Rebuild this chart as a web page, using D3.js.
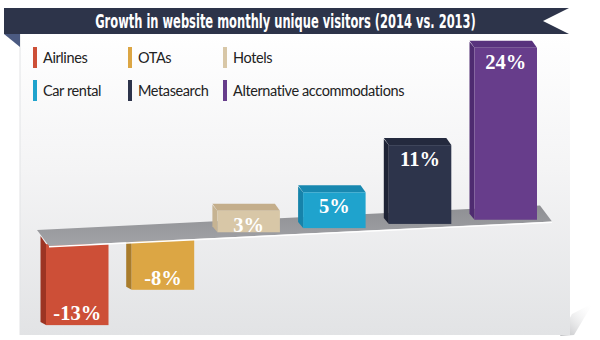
<!DOCTYPE html>
<html>
<head>
<meta charset="utf-8">
<script src="https://cdn.jsdelivr.net/npm/d3@7"></script>
<style>
  html, body { margin: 0; padding: 0; background: #ffffff; }
  svg { display: block; }
</style>
</head>
<body>
<svg id="chart" width="600" height="340"></svg>
<script>
// ---- data ----
const title = "Growth in website monthly unique visitors (2014 vs. 2013)";
const categories = ["Airlines", "OTAs", "Hotels", "Car rental", "Metasearch", "Alternative accommodations"];
const values = [-13, -8, 3, 5, 11, 24];
const frontColors = ["#cd4f37", "#dca644", "#d8c7a7", "#1fa3cd", "#2d344b", "#673d8b"];
const sideColors  = ["#9c3423", "#a97c2c", "#c6b392", "#1683aa", "#1e2335", "#4e2b70"];
const topColors   = ["#b8432e", "#c79336", "#c4ae8b", "#1888b0", "#242a3e", "#58327d"];

const svg = d3.select("#chart");
const defs = svg.append("defs");

// card background gradient
const cg = defs.append("linearGradient").attr("id", "cardGrad")
  .attr("x1", 0).attr("y1", 0).attr("x2", 0).attr("y2", 1);
cg.append("stop").attr("offset", "0%").attr("stop-color", "#ffffff");
cg.append("stop").attr("offset", "45%").attr("stop-color", "#f4f4f5");
cg.append("stop").attr("offset", "100%").attr("stop-color", "#e2e3e5");

const sg = defs.append("linearGradient").attr("id", "curlGrad")
  .attr("x1", 0).attr("y1", 1).attr("x2", 1).attr("y2", 0);
sg.append("stop").attr("offset", "0%").attr("stop-color", "#b9babd");
sg.append("stop").attr("offset", "100%").attr("stop-color", "#ffffff").attr("stop-opacity", 0);

const pg = defs.append("linearGradient").attr("id", "platGrad")
  .attr("x1", 0).attr("y1", 0).attr("x2", 0).attr("y2", 1);
pg.append("stop").attr("offset", "0%").attr("stop-color", "#8e8f93");
pg.append("stop").attr("offset", "100%").attr("stop-color", "#a2a3a7");

// page curl shadow + card
svg.append("path").attr("d", "M560,336 L572,314 L593,303 L574,335 Z").attr("fill", "url(#curlGrad)");
svg.append("rect").attr("x", 20).attr("y", 33).attr("width", 550).attr("height", 302)
  .attr("fill", "url(#cardGrad)");
svg.append("line").attr("x1", 20).attr("x2", 20).attr("y1", 33).attr("y2", 335)
  .attr("stroke", "#e2e3e5").attr("stroke-width", 1);

// title banner
svg.append("path").attr("d", "M4,34 L20,34 L20,47 Z").attr("fill", "#4b5a81");
svg.append("path").attr("d", "M4,8 L569,8 L543,21 L569,34 L4,34 Z").attr("fill", "#2d344a");
const titleG = svg.append("g");
const titleText = titleG.append("text").attr("x", 0).attr("y", 0)
  .attr("text-anchor", "middle")
  .attr("fill", "#ffffff")
  .attr("font-family", "'Liberation Sans Narrow','DejaVu Sans Condensed',Roboto,sans-serif")
  .attr("font-weight", "bold").attr("font-size", 20)
  .text(title);
// condense the title horizontally to the banner's text width
const natural = titleText.node().getComputedTextLength();
const sx = natural > 0 ? 381 / natural : 1;
titleG.attr("transform", `translate(285.5,28) scale(${sx},1)`);

// legend
const legCol = d3.scalePoint().domain([0, 1, 2]).range([33, 223]);
const legRow = d3.scalePoint().domain([0, 1]).range([47, 80]);
const legend = svg.append("g").selectAll("g").data(categories).join("g")
  .attr("transform", (d, i) => `translate(${legCol(i % 3)},${legRow(Math.floor(i / 3))})`);
legend.append("rect").attr("width", 4).attr("height", 21).attr("fill", (d, i) => frontColors[i]);
legend.append("text").attr("x", 10).attr("y", 16)
  .attr("font-family", "Lato, 'Open Sans', sans-serif").attr("font-size", 14.5)
  .attr("letter-spacing", -0.4)
  .attr("fill", "#222").text(d => d);

// scales
const x = d3.scaleBand().domain(categories).range([40.5, 537]).paddingInner(0.2065).paddingOuter(0);
const platformFront = d3.scaleLinear().domain([49, 552]).range([246, 221.5]); // front edge of tilted base
const yOff = d3.scaleLinear().domain([-13, 0, 24]).range([81, 0, -172]);
const side = 5.5, dx = 5, dy = 6;

const bars = categories.map((c, i) => {
  const x0 = x(c), x1 = x0 + x.bandwidth();
  const fx0 = x0 + side;
  const xc = (fx0 + x1) / 2;
  const v = values[i];
  let top, bottom;
  if (v < 0) { top = platformFront(xc) - 0.5; bottom = top + yOff(v); }
  else { bottom = platformFront(xc) - 4; top = bottom + yOff(v); }
  return { c, i, v, x0, x1, fx0, xc, top, bottom };
});

const neg = bars.filter(b => b.v < 0), pos = bars.filter(b => b.v >= 0);

// negative bars (hang below the base)
const gNeg = svg.append("g");
gNeg.selectAll("path.side").data(neg).join("path")
  .attr("d", b => `M${b.fx0},${b.top} L${b.fx0},${b.bottom} L${b.fx0 - side},${b.bottom - 3} L${b.fx0 - side},${b.top - 8} Z`)
  .attr("fill", b => sideColors[b.i]);
gNeg.selectAll("rect").data(neg).join("rect")
  .attr("x", b => b.fx0).attr("y", b => b.top)
  .attr("width", b => b.x1 - b.fx0).attr("height", b => b.bottom - b.top)
  .attr("fill", b => frontColors[b.i]);

// platform
const pfL = 49, pfR = 552;
svg.append("path")
  .attr("d", `M${pfL},${platformFront(pfL)} L${pfR},${platformFront(pfR)} L${pfR - 12},${platformFront(pfR) - 16} L${pfL - 12},${platformFront(pfL) - 16} Z`)
  .attr("fill", "url(#platGrad)");
svg.append("line")
  .attr("x1", pfL).attr("y1", platformFront(pfL) + 0.8)
  .attr("x2", pfR).attr("y2", platformFront(pfR) + 0.8)
  .attr("stroke", "#ffffff").attr("stroke-width", 1.4);

// positive bars (boxes standing on the base)
const gPos = svg.append("g");
gPos.selectAll("path.side").data(pos).join("path").attr("class", "side")
  .attr("d", b => `M${b.fx0},${b.top} L${b.fx0},${b.bottom} L${b.fx0 - dx},${b.bottom - dy} L${b.fx0 - dx},${b.top - dy} Z`)
  .attr("fill", b => sideColors[b.i]);
gPos.selectAll("path.top").data(pos).join("path").attr("class", "top")
  .attr("d", b => `M${b.fx0},${b.top} L${b.x1},${b.top} L${b.x1 - dx},${b.top - dy - 1} L${b.fx0 - dx},${b.top - dy - 1} Z`)
  .attr("fill", b => topColors[b.i]);
gPos.selectAll("rect").data(pos).join("rect")
  .attr("x", b => b.fx0).attr("y", b => b.top)
  .attr("width", b => b.x1 - b.fx0).attr("height", b => b.bottom - b.top)
  .attr("fill", b => frontColors[b.i]);

// value labels
svg.append("g").selectAll("text").data(bars).join("text")
  .attr("x", b => b.xc)
  .attr("y", b => b.v < 0 ? b.bottom - 5 : b.top + 21)
  .attr("text-anchor", "middle")
  .attr("fill", "#ffffff")
  .attr("font-family", "'Liberation Serif','DejaVu Serif',serif")
  .attr("font-weight", "bold").attr("font-size", 20.5)
  .text(b => `${b.v}%`);
</script>
</body>
</html>
